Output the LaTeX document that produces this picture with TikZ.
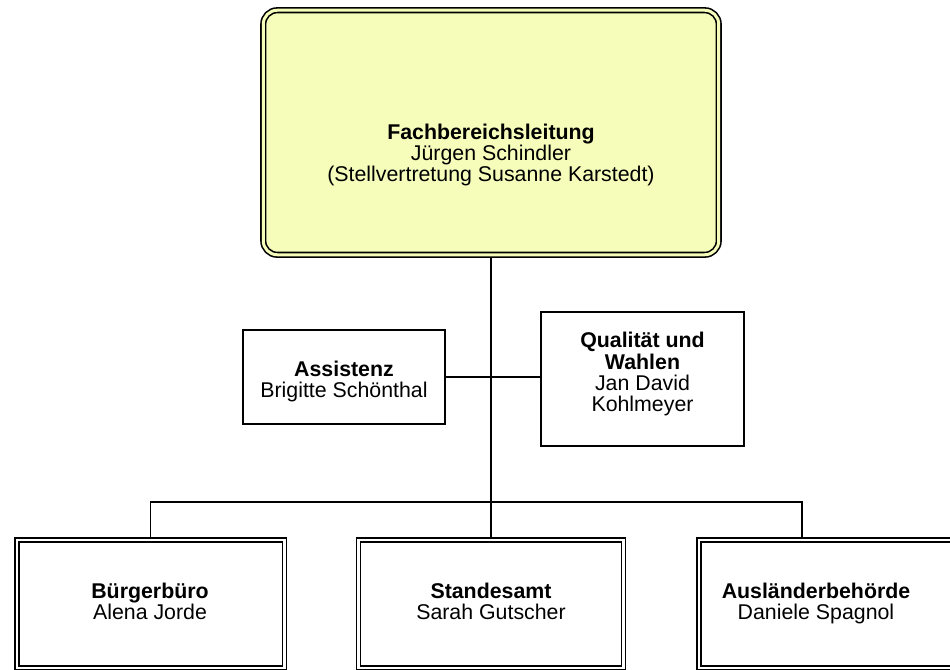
\documentclass[tikz,border=0pt]{standalone}
\usepackage{fontspec}
\setmainfont{Liberation Sans}
\usetikzlibrary{positioning}
\definecolor{leitung}{RGB}{246,252,186}
\begin{document}
\begin{tikzpicture}
    [x=0.75pt, y=-0.75pt,
     txt/.style={align=center, inner sep=0pt, font=\fontsize{16}{15.8}\selectfont,
                 execute at begin node=\strut, execute at end node=\strut},
     unit/.style={draw, line width=1.4pt, inner sep=0pt, outer sep=0.7pt},
     dept/.style={draw, line width=1.1pt, double=white, double distance=1.9pt,
                  inner sep=0pt, outer sep=2pt, minimum height=96.2pt},
     conn/.style={line width=1.4pt}]
    \useasboundingbox (0,0) rectangle (950,669);
    \clip (0,0) rectangle (950,669);
    \node[draw, line width=1.2pt, double=leitung, double distance=2.25pt, fill=leitung,
          rounded corners=10.5pt, minimum width=341.6pt, minimum height=183.4pt,
          outer sep=2.3pt] (fbl) at (491,132.5) {};
    \node[unit, minimum width=151.9pt, minimum height=70.9pt] (assist) at (344,377) {};
    \node[unit, minimum width=152.6pt, minimum height=100.9pt] (qual) at (642.5,379) {};
    \node[dept, minimum width=200.6pt] (buer) at (150.5,603.9) {};
    \node[dept, minimum width=198.4pt] (stand) at (491,603.9) {};
    \node[dept, minimum width=200.6pt] (ausl) at (832.5,603.9) {};
    \coordinate (bus) at (491,502);
    \coordinate (drop) at (802,537);

    \draw[conn] (fbl.south) -- (stand.north);
    \draw[conn] (assist.east) -- (assist.east -| qual.west);
    \draw[conn] (buer.north) |- (bus) -| (drop);

    \node[txt] (fbl-txt) at (491,156) {\textbf{Fachbereichsleitung}\\J\"urgen Schindler\\(Stellvertretung Susanne Karstedt)};
    \node[txt] (assist-txt) at (344,382) {\textbf{Assistenz}\\Brigitte Sch\"onthal};
    \node[txt] (qual-txt) at (642.5,375) {\textbf{Qualit\"at und}\\\textbf{Wahlen}\\Jan David\\Kohlmeyer};
    \node[txt] (buer-txt) at (150,604) {\textbf{B\"urgerb\"uro}\\Alena Jorde};
    \node[txt] (stand-txt) at (491,604) {\textbf{Standesamt}\\Sarah Gutscher};
    \node[txt] (ausl-txt) at (816,604) {\textbf{Ausl\"anderbeh\"orde}\\Daniele Spagnol};
  \end{tikzpicture}
\end{document}
